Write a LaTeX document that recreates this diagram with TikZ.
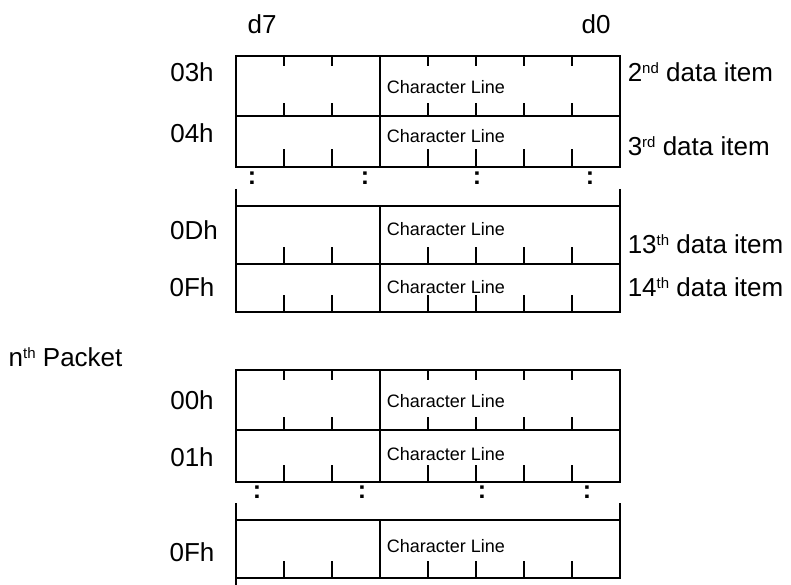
\documentclass[tikz,border=0pt]{standalone}
\usepackage{fontspec}
\setmainfont{Liberation Sans}
\newcommand\sups[1]{\raisebox{8pt}{\fontsize{15}{15}\selectfont #1}}
\newcommand\pktrow[4]{% ytop ybot toptick bottomtick
  \draw (236,#1) rectangle (620,#2);
  \draw (380,#1) -- (380,#2);
  \foreach \xx in {284,332,428,476,524,572}{
    \ifdim #3pt>0pt \draw (\xx,#1) -- ++(0,#3); \fi
    \draw (\xx,#2) -- ++(0,-#4);
  }%
}
\begin{document}
\begin{tikzpicture}[x=1pt,y=-1pt,line width=1.5pt,
  lbl/.style={font=\fontsize{26}{30}\selectfont,inner sep=0pt},
  rlbl/.style={font=\fontsize{26}{30}\selectfont,inner sep=0pt,anchor=west},
  cl/.style={font=\fontsize{18}{20}\selectfont,inner sep=0pt,anchor=west},
  dotmark/.style={font=\bfseries\fontsize{25}{25}\selectfont,inner sep=0pt}]
\useasboundingbox (0,0) rectangle (791,585);

% column headers
\node[lbl] (d7) at (262,24) {d7};
\node[lbl] (d0) at (596,24) {d0};

% ---- upper block
\pktrow{56}{116}{10}{13}
\pktrow{116}{167}{0}{18}
\draw (236,189) -- (236,206);
\draw (620,189) -- (620,206);
\pktrow{206}{264}{0}{17}
\pktrow{264}{312}{0}{17}

\node[dotmark] (u1) at (252,178) {:};
\node[dotmark] (u2) at (365,178) {:};
\node[dotmark] (u3) at (477,178) {:};
\node[dotmark] (u4) at (590,178) {:};

\node[lbl] (a03) at (192,72) {03h};
\node[lbl] (a04) at (192,133) {04h};
\node[lbl] (a0D) at (194,230) {0Dh};
\node[lbl] (a0F) at (192,287) {0Fh};

\node[cl] (c1) at (386,87) {Character Line};
\node[cl] (c2) at (386,136) {Character Line};
\node[cl] (c3) at (386,229) {Character Line};
\node[cl] (c4) at (386,287) {Character Line};

\node[rlbl] (i2) at (627,72) {2\sups{nd} data item};
\node[rlbl] (i3) at (627,146) {3\sups{rd} data item};
\node[rlbl] (i13) at (627,244) {13\sups{th} data item};
\node[rlbl] (i14) at (627,287) {14\sups{th} data item};

% ---- packet label
\node[rlbl] (pk) at (8,357) {n\sups{th} Packet};

% ---- lower block
\pktrow{370}{430}{10}{13}
\pktrow{430}{482}{0}{17}
\draw (236,503) -- (236,520);
\draw (620,503) -- (620,520);
\pktrow{520}{578}{0}{17}
\draw (236,578) -- (236,585);

\node[dotmark] (l1) at (257,492) {:};
\node[dotmark] (l2) at (362,492) {:};
\node[dotmark] (l3) at (482,492) {:};
\node[dotmark] (l4) at (587,492) {:};

\node[lbl] (b00) at (192,400) {00h};
\node[lbl] (b01) at (192,457) {01h};
\node[lbl] (b0F) at (192,552) {0Fh};

\node[cl] (c5) at (386,401) {Character Line};
\node[cl] (c6) at (386,454) {Character Line};
\node[cl] (c7) at (386,546) {Character Line};
\end{tikzpicture}
\end{document}
